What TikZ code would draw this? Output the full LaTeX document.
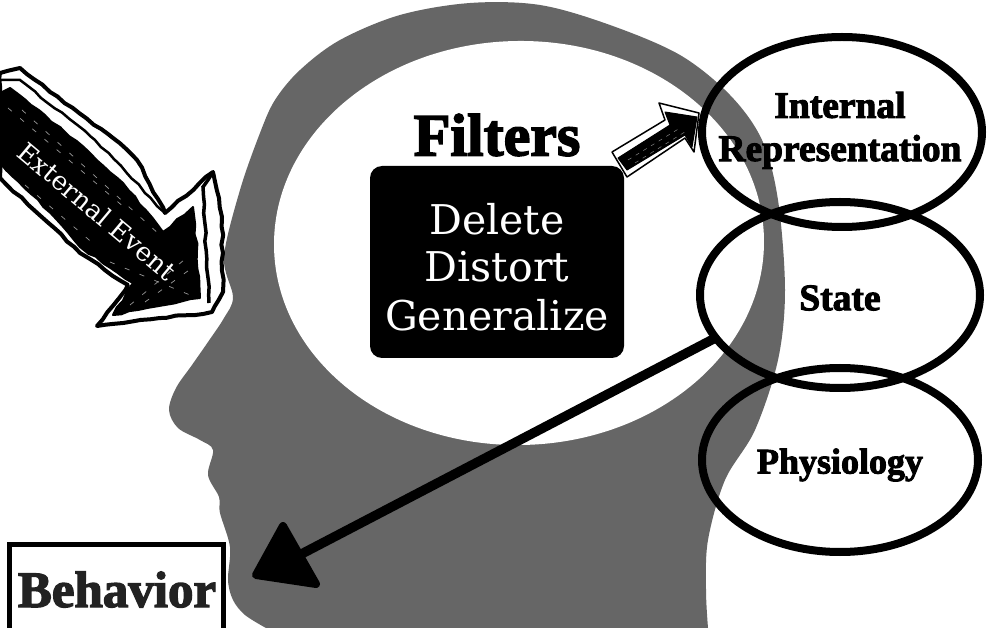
\documentclass[tikz,border=0pt]{standalone}
\usepackage{fontspec}
\usetikzlibrary{shapes.geometric,decorations.pathmorphing,calc}
\setmainfont{Liberation Serif}
\newfontfamily\heavyfont[FakeBold=2.6]{Liberation Serif Bold}
\newfontfamily\slabfont{DejaVu Serif}
\definecolor{headgrey}{HTML}{666666}
\definecolor{inkdark}{HTML}{222222}
\tikzset{
  x=1pt,y=-1pt,
  headfill/.style={fill=headgrey},
  circlenode/.style={ellipse,draw=black,line width=8pt,fill=none,inner sep=0pt,outer sep=0pt},
  heavylabel/.style={font=\heavyfont\fontsize{#1}{#1}\selectfont,text=black,inner sep=0pt},
  slablabel/.style={font=\slabfont\fontsize{41}{41}\selectfont,text=white,inner sep=0pt},
  sketch/.style={decorate,decoration={random steps,segment length=9pt,amplitude=1pt}},
  sketchline/.style={draw=black,line width=#1,line join=round,line cap=round},
  scratch/.style={draw=white,line width=0.7pt,dash pattern=on 5pt off 11pt,opacity=0.6},
}
\begin{document}
\begin{tikzpicture}
\pgfmathsetseed{7}
\useasboundingbox (0,0) rectangle (994,628);
\fill[white] (0,0) rectangle (994,628);
% head
\fill[headfill] plot[smooth,tension=0.55] coordinates {
 (266,628)(245,615)(233,600)(228,580)(230,547)(220,513)(219,497)(208,475)(213,450)
 (200,440)(178,428)(169,410)(176,388)(192,365)(208,342)(224,318)(233,297)(224,257)
 (240,190)(260,133)(275,100)(300,70)(340,40)(400,15)(470,3)(540,5)(610,25)(680,55)
 (730,95)(762,140)(778,200)(785,290)(778,360)(755,430)(725,480)(708,540)(706,590)(708,628)
} -- cycle;
\fill[white,rotate around={1:(519,243)}] (519,243) ellipse [x radius=245,y radius=202];
% filters box
\node[heavylabel=60] (filters) at (497,135) {Filters};
\node[fill=black,rounded corners=12pt,minimum width=254pt,minimum height=192pt,inner sep=0pt] (box) at (497,262) {};
\node[slablabel] (delete) at (497,219) {Delete};
\node[slablabel] (distort) at (497,267) {Distort};
\node[slablabel] (general) at (497,315) {Generalize};
% small arrow
\path[fill=white,sketchline=1.5pt] (612,152)--(665,120)--(659,103)--(699,113)--(694,152)--(685,138)--(627,177)--cycle;
\path[fill=black,sketchline=1pt] (618,158)--(670,125)--(665,112)--(697,117)--(692,147)--(685,135)--(627,170)--cycle;
\draw[white,line width=.5pt,opacity=.5,dash pattern=on 4pt off 5pt] (628,160)--(680,128) (635,163)--(688,130);
% big arrow
\path[fill=white,sketchline=4pt,sketch] (0,73)--(20,68)--(50,92)--(113,138)--(137,160)--(165,213)--(213,172)--(222,217)--(223,292)--(212,312)--(97,326)--(128,285)--(80,253)--(0,178)--cycle;
\path[draw=black,line width=2.5pt,sketch] (0,80)--(20,80)--(95,140)--(165,213);
\path[draw=black,line width=3.5pt,sketch] (213,172)--(203,187)--(209,303);
\path[fill=black,sketchline=2pt,sketch] (0,93)--(10,88)--(63,130)--(123,183)--(163,232)--(193,207)--(197,250)--(200,298)--(113,315)--(133,283)--(80,247)--(57,220)--(0,163)--cycle;
\draw[scratch] (8,108)--(125,208) (22,110)--(160,235) (25,185)--(95,245) (110,262)--(190,295) (130,305)--(190,255) (145,302)--(192,268);
\node[rotate=-40,font=\slabfont\fontsize{26}{26}\selectfont,text=white,inner sep=0pt] (event) at (97,211) {External Event};
% state ellipses
\node[circlenode,minimum width=280pt,minimum height=190pt] (internal) at (842,132) {};
\node[circlenode,minimum width=280pt,minimum height=186pt] (state) at (840,295) {};
\node[circlenode,minimum width=276pt,minimum height=184pt] (physio) at (840,460) {};
\node[heavylabel=37.5] (l1) at (840,105) {Internal};
\node[heavylabel=37.5] (l2) at (840,152) {Representation};
\node[heavylabel=37.5] (l3) at (840,298) {State};
\node[heavylabel=36] (l4) at (840,465) {Physiology};
% connector
\coordinate (head) at (290,560);
\draw[line width=9.5pt] (state.199) -- (head);
\path[fill=black,draw=black,line width=8pt,line join=round] (283,526)--(256,575)--(316,584)--cycle;
% behavior
\node[draw=black,line width=5pt,outer sep=0pt,minimum width=214pt,minimum height=120pt,inner sep=0pt,anchor=north west] (behavior) at (9.5,544.5) {};
\node[heavylabel=51,text=inkdark,anchor=base] (behlabel) at (117,607) {Behavior};
\end{tikzpicture}
\end{document}
